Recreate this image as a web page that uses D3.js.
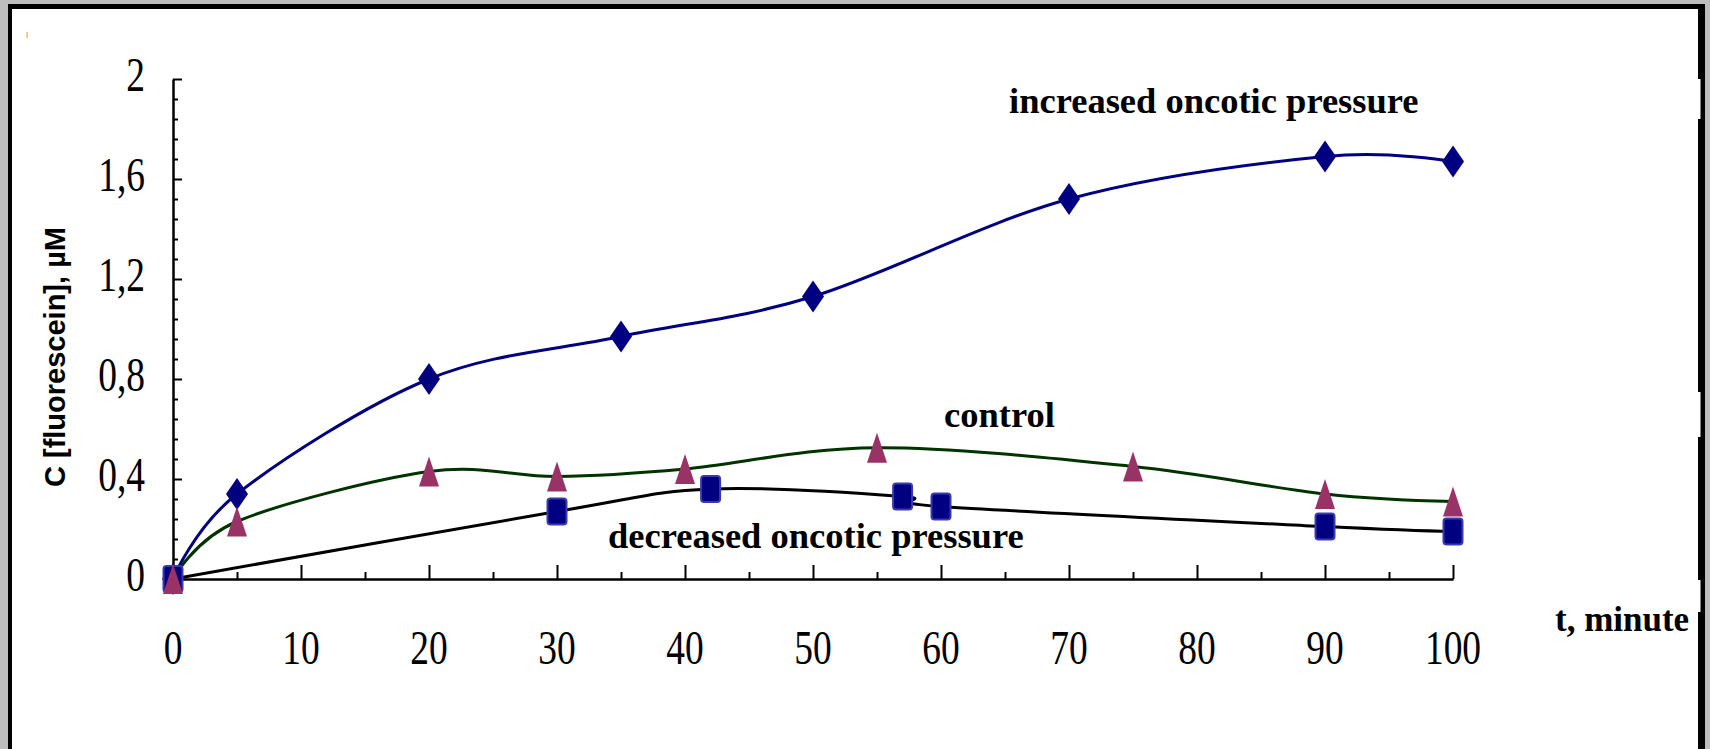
<!DOCTYPE html>
<html>
<head>
<meta charset="utf-8">
<script src="https://cdn.jsdelivr.net/npm/d3@7/dist/d3.min.js"></script>
<style>
  html, body { margin: 0; padding: 0; background: #bdbdbd; }
  svg { display: block; }
</style>
</head>
<body>
<script>
// Fluorescein concentration over time under three oncotic-pressure conditions
const increasedT = [0, 5, 20, 35, 50, 70, 90, 100];
const increasedC = [0, 0.34, 0.80, 0.97, 1.13, 1.52, 1.69, 1.67];

const controlT = [0, 5, 20, 30, 40, 55, 75, 90, 100];
const controlC = [0, 0.23, 0.43, 0.41, 0.44, 0.525, 0.45, 0.34, 0.31];

const decreasedT = [0, 30, 42, 57, 60, 90, 100];
const decreasedC = [0, 0.27, 0.36, 0.33, 0.29, 0.21, 0.19];

const xTickValues = [0, 10, 20, 30, 40, 50, 60, 70, 80, 90, 100];
const xTickLabels = ["0", "10", "20", "30", "40", "50", "60", "70", "80", "90", "100"];
const yTickValues = [0, 0.4, 0.8, 1.2, 1.6, 2];
const yTickLabels = ["0", "0,4", "0,8", "1,2", "1,6", "2"];

const seriesLabels = {
  increased: "increased oncotic pressure",
  control: "control",
  decreased: "decreased oncotic pressure"
};
const xTitle = "t, minute";
const yTitle = "C [fluorescein], µM";

const W = 1710, H = 749;
const svg = d3.select("body").append("svg").attr("width", W).attr("height", H);

// window frame
svg.append("rect").attr("x", 0).attr("y", 0).attr("width", W).attr("height", H).attr("fill", "#bdbdbd");
svg.append("rect").attr("x", 8).attr("y", 4).attr("width", 1697).attr("height", H).attr("fill", "#000");
svg.append("rect").attr("x", 12).attr("y", 9).attr("width", 1686).attr("height", H).attr("fill", "#fff");
[[79, 119], [392, 437], [580, 612]].forEach(([a, b]) => {
  svg.append("rect").attr("x", 1698).attr("y", a).attr("width", 2.5).attr("height", b - a).attr("fill", "#fff");
});
svg.append("rect").attr("x", 26.5).attr("y", 32).attr("width", 1.2).attr("height", 6).attr("fill", "#f2a65a");

const x = d3.scaleLinear().domain([0, 100]).range([173, 1453]);
const y = d3.scaleLinear().domain([0, 2]).range([579, 79]);

// axes: ticks point inward
const gx = svg.append("g").attr("transform", `translate(0,${y(0)})`);
gx.call(d3.axisBottom(x).tickValues(d3.range(5, 100, 10)).tickSize(-7).tickFormat("").tickSizeOuter(0));
gx.call(g => g.append("g").call(d3.axisBottom(x).tickValues(xTickValues).tickSize(-14).tickFormat("").tickSizeOuter(0)));
gx.selectAll("path, line").attr("stroke", "#000").attr("stroke-width", 2);

const gy = svg.append("g").attr("transform", `translate(${x(0)},0)`);
const minorY = d3.range(0, 2.0001, 0.08).filter(v => Math.abs(v / 0.4 - Math.round(v / 0.4)) > 1e-6);
gy.call(d3.axisLeft(y).tickValues(minorY).tickSize(-5).tickFormat("").tickSizeOuter(0));
gy.call(g => g.append("g").call(d3.axisLeft(y).tickValues(yTickValues).tickSize(-9).tickFormat("").tickSizeOuter(0)));
gy.selectAll("path, line").attr("stroke", "#000").attr("stroke-width", 2);

// tick labels (narrow serif digits)
const tickFont = "'Liberation Serif', 'Times New Roman', serif";
svg.append("g").selectAll("text").data(xTickValues).join("text")
  .attr("transform", d => `translate(${x(d)},664) scale(0.78,1)`)
  .attr("text-anchor", "middle")
  .attr("font-family", tickFont).attr("font-size", 48).attr("fill", "#000")
  .text((d, i) => xTickLabels[i]);
svg.append("g").selectAll("text").data(yTickValues).join("text")
  .attr("transform", d => `translate(145,${y(d) + 12}) scale(0.78,1)`)
  .attr("text-anchor", "end")
  .attr("font-family", tickFont).attr("font-size", 48).attr("fill", "#000")
  .text((d, i) => yTickLabels[i]);

// axis titles
svg.append("text")
  .attr("transform", "translate(65,357) rotate(-90)")
  .attr("text-anchor", "middle")
  .attr("font-family", "'Liberation Sans', Arial, sans-serif").attr("font-weight", "bold").attr("font-size", 29)
  .text(yTitle);
const labelFont = "'Liberation Serif', 'Times New Roman', serif";
svg.append("text").attr("x", 1555).attr("y", 631)
  .attr("font-family", labelFont).attr("font-weight", "bold").attr("font-size", 35)
  .text(xTitle);

// smoothed series lines
const line = d3.line().x(d => x(d[0])).y(d => y(d[1])).curve(d3.curveCardinal.tension(0));
const pairs = (t, c) => t.map((v, i) => [v, c[i]]);
const incData = pairs(increasedT, increasedC);
const ctlData = pairs(controlT, controlC);
const decData = pairs(decreasedT, decreasedC);

svg.append("path").datum(incData).attr("d", line).attr("fill", "none").attr("stroke", "#000080").attr("stroke-width", 3);
svg.append("path").datum(decData).attr("d", line).attr("fill", "none").attr("stroke", "#000").attr("stroke-width", 3);
svg.append("path").datum(ctlData).attr("d", line).attr("fill", "none").attr("stroke", "#003300").attr("stroke-width", 3);

// markers
svg.append("g").selectAll("path").data(incData).join("path")
  .attr("transform", d => `translate(${x(d[0])},${y(d[1])})`)
  .attr("d", "M0,-16 L11,0 L0,16 L-11,0 Z")
  .attr("fill", "#000080");
svg.append("g").selectAll("rect").data(decData).join("rect")
  .attr("x", d => x(d[0]) - 9.5).attr("y", d => y(d[1]) - 13)
  .attr("width", 19).attr("height", 26).attr("rx", 3)
  .attr("fill", "#000080").attr("stroke", "#3a3aae").attr("stroke-width", 2);
svg.append("g").selectAll("path").data(ctlData).join("path")
  .attr("transform", d => `translate(${x(d[0])},${y(d[1])})`)
  .attr("d", "M0,-15 L10,15 L-10,15 Z")
  .attr("fill", "#993366");

// series annotations
const ann = [
  { text: seriesLabels.increased, x: 1009, y: 113 },
  { text: seriesLabels.control, x: 944, y: 427 },
  { text: seriesLabels.decreased, x: 608, y: 548 }
];
svg.append("g").selectAll("text").data(ann).join("text")
  .attr("x", d => d.x).attr("y", d => d.y)
  .attr("font-family", labelFont).attr("font-weight", "bold").attr("font-size", 36.5)
  .attr("fill", "#000")
  .text(d => d.text);
</script>
</body>
</html>
